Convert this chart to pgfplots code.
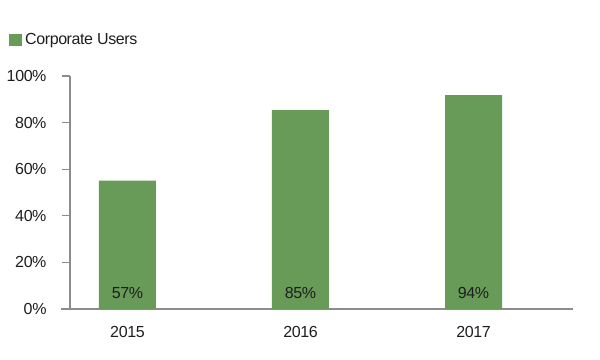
\documentclass[border=0pt]{standalone}
\usepackage{pgfplots}
\pgfplotsset{compat=1.18}
\usepackage{fontspec}
\setmainfont{Liberation Sans}[LetterSpace=-2.5]
\definecolor{bargreen}{RGB}{104,155,87}
\definecolor{axgray}{RGB}{140,140,140}
\definecolor{txt}{RGB}{30,30,30}
\begin{document}
\begin{tikzpicture}[x=1pt,y=1pt]
\useasboundingbox (0,0) rectangle (600,359);
\begin{axis}[
  at={(70pt,50pt)}, anchor=south west,
  scale only axis, width=503pt, height=233pt,
  xmin=-0.332, xmax=2.575, ymin=0, ymax=100,
  axis lines=left, axis line style={-, draw=axgray, line width=1.2pt},
  x axis line style={shorten <=-9pt},
  xtick={0,1,2}, xticklabels={2015,2016,2017},
  ytick={0,20,40,60,80,100},
  yticklabels={0\%,20\%,40\%,60\%,80\%,100\%},
  tick align=outside,
  major tick length=8pt,
  ytick style={draw=axgray, line width=1.2pt},
  xtick style={draw=none},
  tick label style={font=\fontsize{16}{19}\selectfont, text=txt},
  yticklabel style={xshift=-12pt},
  xticklabel style={yshift=-6pt},
  legend style={draw=none, fill=none, at={(-0.1213,1.155)}, anchor=west,
    font=\fontsize{16}{19}\selectfont, text=txt, inner sep=0pt,
    legend cell align=left,
    nodes={inner xsep=3pt}},
  legend image code/.code={\fill[bargreen] (0pt,-6pt) rectangle (13pt,6pt);},
]
\addplot[ybar, bar width=57pt, fill=bargreen, draw=none] coordinates {(0,55.1) (1,85.4) (2,91.8)};
\addlegendentry{Corporate Users}
\addplot[draw=none, mark=none, nodes near coords, point meta=explicit symbolic,
  nodes near coords style={anchor=center, font=\fontsize{16}{19}\selectfont, text=txt},
  forget plot] table[meta=label] {
x y label
0 6.9 57\%
1 6.9 85\%
2 6.9 94\%
};
\end{axis}
\end{tikzpicture}
\end{document}
